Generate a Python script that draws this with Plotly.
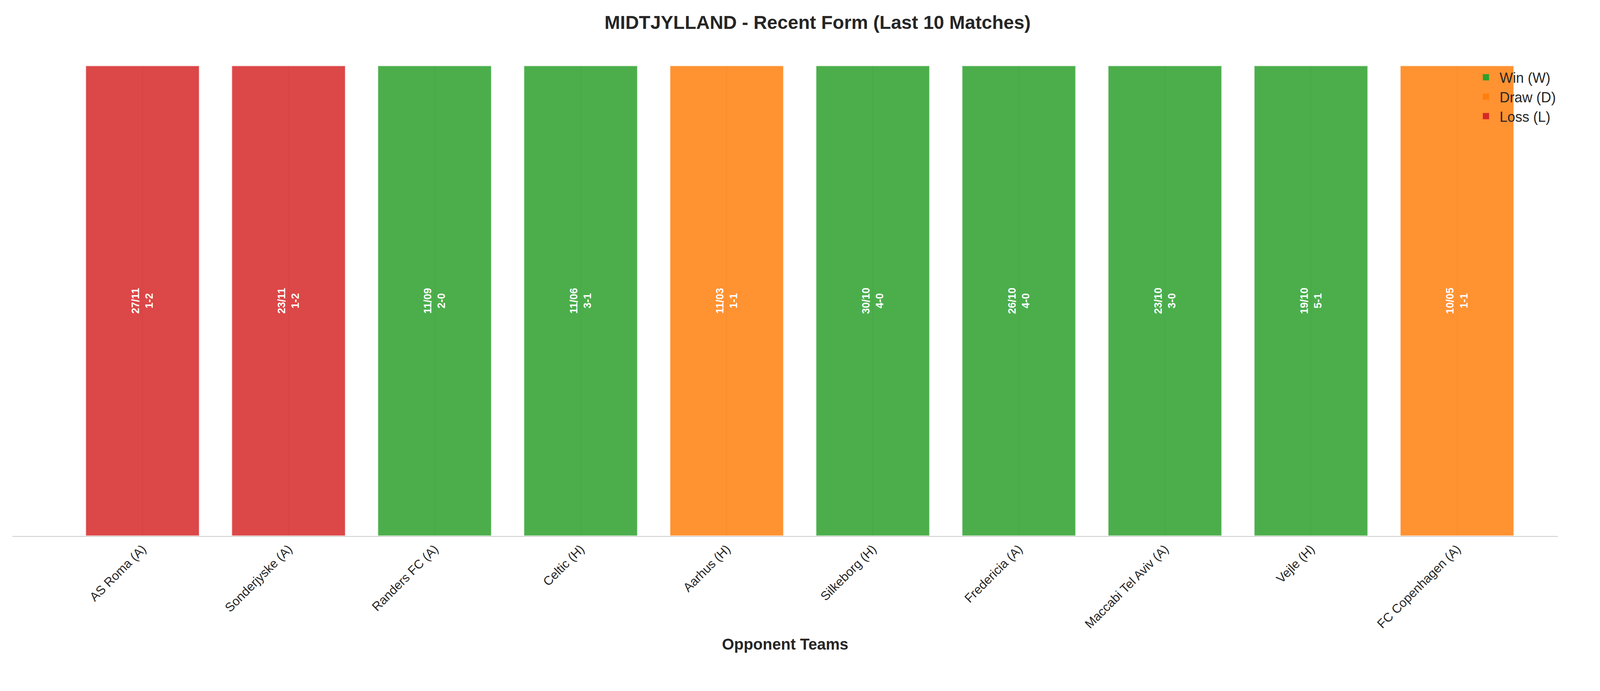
import plotly.graph_objects as go

# Recent form data (most recent first)
opponents = ["AS Roma (A)", "Sonderjyske (A)", "Randers FC (A)", "Celtic (H)", "Aarhus (H)",
             "Silkeborg (H)", "Fredericia (A)", "Maccabi Tel Aviv (A)", "Vejle (H)", "FC Copenhagen (A)"]
dates = ["27/11", "23/11", "11/09", "11/06", "11/03", "30/10", "26/10", "23/10", "19/10", "10/05"]
scores = ["1-2", "1-2", "2-0", "3-1", "1-1", "4-0", "4-0", "3-0", "5-1", "1-1"]
results = ["L", "L", "W", "W", "D", "W", "W", "W", "W", "D"]

result_names = {"W": "Win (W)", "D": "Draw (D)", "L": "Loss (L)"}
result_colours = {"W": "#2ca02c", "D": "#ff7f0e", "L": "#d62728"}

fig = go.Figure()

for res in ["W", "D", "L"]:
    idx = [i for i, r in enumerate(results) if r == res]
    fig.add_trace(go.Bar(
        x=idx,
        y=[1] * len(idx),
        width=0.78,
        name=result_names[res],
        showlegend=False,
        marker=dict(color=result_colours[res], opacity=0.85,
                    line=dict(color="rgba(255,255,255,0.8)", width=3)),
        text=[f"{dates[i]}<br>{scores[i]}" for i in idx],
        textposition="inside",
        insidetextanchor="middle",
        textangle=-90,
        textfont=dict(color="white", size=27, family="Liberation Sans, Arial", weight="bold"),
    ))

# legend entries with larger patches
for res in ["W", "D", "L"]:
    fig.add_trace(go.Scatter(
        x=[None], y=[None], mode="markers", name=result_names[res],
        marker=dict(symbol="square", size=30, color=result_colours[res]),
    ))

fig.update_layout(
    width=4170, height=1770,
    barmode="overlay",
    plot_bgcolor="white", paper_bgcolor="white",
    font=dict(family="Liberation Sans, Arial", color="#262626"),
    title=dict(text="<b>MIDTJYLLAND - Recent Form (Last 10 Matches)</b>",
               x=0.5, xanchor="center", y=0.972, yanchor="middle", font=dict(size=48)),
    margin=dict(l=24, r=190, t=160, b=405),
    legend=dict(x=1.0, y=1.0, xanchor="right", yanchor="top",
                bgcolor="rgba(0,0,0,0)", font=dict(size=36), itemwidth=60),
)

fig.update_xaxes(
    range=[-0.89, 9.69],
    tickvals=list(range(len(opponents))),
    ticktext=opponents,
    tickangle=-45,
    tickfont=dict(size=32),
    showgrid=True, gridcolor="rgba(200,200,200,0.5)", gridwidth=2,
    showline=True, linecolor="#cccccc", linewidth=2,
    ticks="", zeroline=False,
    title=dict(text="<b>Opponent Teams</b>", font=dict(size=40), standoff=20),
)
fig.update_yaxes(range=[0, 1.0], visible=False)

fig.write_html("out.html")
